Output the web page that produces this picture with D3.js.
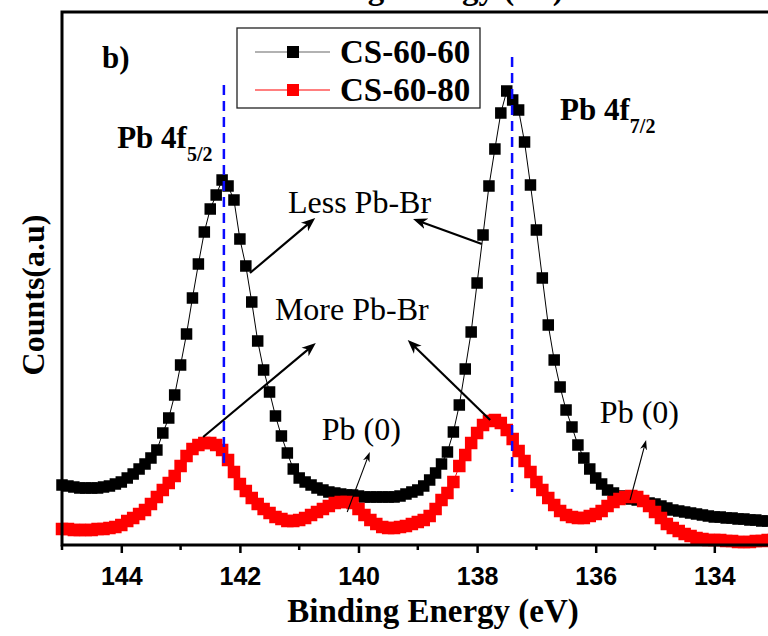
<!DOCTYPE html>
<html>
<head>
<meta charset="utf-8">
<script src="https://cdn.jsdelivr.net/npm/d3@7"></script>
<style>
  body { margin: 0; background: #fff; }
  svg { display: block; }
</style>
</head>
<body>
<div id="chart"></div>
<script>
// binding energy grid (eV)
const energies = [
  145.0, 144.9, 144.8, 144.7, 144.6, 144.5, 144.4, 144.3, 144.2, 144.1,
  144.0, 143.9, 143.8, 143.7, 143.6, 143.5, 143.4, 143.3, 143.2, 143.1,
  143.0, 142.9, 142.8, 142.7, 142.6, 142.5, 142.4, 142.3, 142.2, 142.1,
  142.0, 141.9, 141.8, 141.7, 141.6, 141.5, 141.4, 141.3, 141.2, 141.1,
  141.0, 140.9, 140.8, 140.7, 140.6, 140.5, 140.4, 140.3, 140.2, 140.1,
  140.0, 139.9, 139.8, 139.7, 139.6, 139.5, 139.4, 139.3, 139.2, 139.1,
  139.0, 138.9, 138.8, 138.7, 138.6, 138.5, 138.4, 138.3, 138.2, 138.1,
  138.0, 137.9, 137.8, 137.7, 137.6, 137.5, 137.4, 137.3, 137.2, 137.1,
  137.0, 136.9, 136.8, 136.7, 136.6, 136.5, 136.4, 136.3, 136.2, 136.1,
  136.0, 135.9, 135.8, 135.7, 135.6, 135.5, 135.4, 135.3, 135.2, 135.1,
  135.0, 134.9, 134.8, 134.7, 134.6, 134.5, 134.4, 134.3, 134.2, 134.1,
  134.0, 133.9, 133.8, 133.7, 133.6, 133.5, 133.4, 133.3, 133.2, 133.1,
  133.0
];

// counts (a.u.)
const cs6060 = [
  60, 59, 58, 57, 57, 57, 57, 58, 59, 61,
  63, 67, 71, 76, 81, 87, 95, 112, 127, 150,
  180, 211, 247, 281, 313, 336, 350, 365, 359, 345,
  306, 279, 243, 204, 175, 153, 129, 109, 92, 76,
  67, 63, 60, 57, 55, 53, 52, 51, 50, 50,
  49, 48, 48, 48, 48, 48, 48, 49, 51, 53,
  55, 59, 65, 72, 81, 93, 113, 140, 176, 213,
  262, 310, 359, 396, 432, 454, 445, 435, 403, 360,
  315, 267, 220, 185, 158, 135, 118, 100, 87, 76,
  67, 61, 55, 52, 49, 47, 46, 45, 44, 42,
  41, 39, 37, 35, 34, 33, 32, 31, 30, 29,
  28, 28, 27, 27, 26, 26, 25, 25, 24, 24,
  24
];

const cs6080 = [
  16, 16, 15, 15, 15, 15, 16, 16, 17, 18,
  20, 24, 27, 31, 35, 41, 48, 55, 62, 69,
  79, 89, 96, 100, 102, 102, 100, 95, 85, 73,
  61, 54, 47, 41, 36, 32, 28, 26, 24, 24,
  25, 27, 30, 33, 36, 39, 42, 43, 43, 42,
  36, 30, 25, 21, 18, 17, 17, 18, 19, 21,
  23, 25, 29, 36, 45, 52, 63, 79, 90, 102,
  112, 120, 124, 125, 122, 115, 106, 94, 84, 73,
  63, 55, 47, 40, 34, 30, 28, 27, 27, 29,
  31, 34, 39, 43, 46, 48, 49, 48, 44, 39,
  33, 27, 21, 17, 14, 11, 9, 7, 6, 5,
  5, 5, 4, 4, 3, 3, 3, 4, 4, 5,
  5
];

const seriesNames = ['CS-60-60', 'CS-60-80'];
const majorTicks = [144, 142, 140, 138, 136, 134];
const minorTicks = [145, 143, 141, 139, 137, 135, 133];

// dashed peak markers: energy, top and bottom in counts
const peakLines = [
  { e: 142.27, top: 460, bottom: 77 },
  { e: 137.41, top: 488, bottom: 53 }
];

// annotation arrows in data coordinates [energy, counts]
const arrows = [
  { from: [141.83, 272], to: [140.73, 327], thick: true },
  { from: [137.92, 301], to: [139.08, 326], thick: true },
  { from: [142.62, 108], to: [140.72, 202], thick: true },
  { from: [137.78, 125], to: [139.17, 205], thick: true },
  { from: [140.19, 33], to: [139.81, 93], thick: false },
  { from: [135.42, 45], to: [135.15, 105], thick: false }
];

const notes = [
  { text: 'Less Pb-Br', at: [141.19, 332] },
  { text: 'More Pb-Br', at: [141.41, 225] },
  { text: 'Pb (0)', at: [140.62, 105] },
  { text: 'Pb (0)', at: [135.93, 122] }
];

const peakNames = [
  { main: 'Pb 4f', sub: '5/2', at: [144.07, 397] },
  { main: 'Pb 4f', sub: '7/2', at: [136.60, 425] }
];

const width = 768;
const height = 636;
const serif = '"Liberation Serif", "Times New Roman", Times, serif';
const sans = '"Liberation Sans", Arial, Helvetica, sans-serif';

const x = d3.scaleLinear().domain([145, 133]).range([62, 62 + 12 * 59.3]);
const y = d3.scaleLinear().domain([0, 533]).range([545, 12]);

const svg = d3.select('#chart').append('svg')
    .attr('width', width)
    .attr('height', height);

const defs = svg.append('defs');
defs.append('marker')
    .attr('id', 'headThick')
    .attr('viewBox', '-14 -7 15 14')
    .attr('refX', 0).attr('refY', 0)
    .attr('markerUnits', 'userSpaceOnUse')
    .attr('markerWidth', 15).attr('markerHeight', 14)
    .attr('orient', 'auto')
  .append('path')
    .attr('d', 'M0,0L-14,-5.5L-10,0L-14,5.5Z')
    .attr('fill', '#000');
defs.append('marker')
    .attr('id', 'headThin')
    .attr('viewBox', '-10 -5 11 10')
    .attr('refX', 0).attr('refY', 0)
    .attr('markerUnits', 'userSpaceOnUse')
    .attr('markerWidth', 11).attr('markerHeight', 10)
    .attr('orient', 'auto')
  .append('path')
    .attr('d', 'M0,0L-10,-3.5L-7,0L-10,3.5Z')
    .attr('fill', '#000');

// cut-off title of the panel above (only its lower edge shows)
svg.append('text')
    .attr('x', 418).attr('y', -1)
    .attr('text-anchor', 'middle')
    .style('font-family', serif).style('font-weight', 'bold').style('font-size', '33px')
    .text('Binding Energy (eV)');

const series = [
  { name: seriesNames[0], values: cs6060, color: '#000', line: '#000', size: 11.5 },
  { name: seriesNames[1], values: cs6080, color: '#ff0000', line: '#ff0000', size: 12.5 }
];

const line = d3.line()
    .x((d, i) => x(energies[i]))
    .y(d => y(d));

series.forEach(s => {
  const g = svg.append('g');
  g.append('path')
      .datum(s.values)
      .attr('d', line)
      .attr('fill', 'none')
      .attr('stroke', s.line)
      .attr('stroke-width', 1);
  g.selectAll('rect')
      .data(s.values)
    .enter().append('rect')
      .attr('x', (d, i) => x(energies[i]) - s.size / 2)
      .attr('y', d => y(d) - s.size / 2)
      .attr('width', s.size)
      .attr('height', s.size)
      .attr('fill', s.color);
});

// peak position guides
svg.selectAll('.peak')
    .data(peakLines)
  .enter().append('line')
    .attr('x1', d => x(d.e)).attr('x2', d => x(d.e))
    .attr('y1', d => y(d.top)).attr('y2', d => y(d.bottom))
    .attr('stroke', '#0a0aff')
    .attr('stroke-width', 2.5)
    .attr('stroke-dasharray', '10,6');

// arrows
arrows.forEach(a => {
  const x1 = x(a.from[0]), y1 = y(a.from[1]);
  const x2 = x(a.to[0]), y2 = y(a.to[1]);
  const len = Math.hypot(x2 - x1, y2 - y1);
  const cut = a.thick ? 8 : 5;
  svg.append('line')
      .attr('x1', x1).attr('y1', y1)
      .attr('x2', x2 - (x2 - x1) / len * cut)
      .attr('y2', y2 - (y2 - y1) / len * cut)
      .attr('stroke', '#000')
      .attr('stroke-width', a.thick ? 2.2 : 1.1);
  svg.append('line')
      .attr('x1', x2 - (x2 - x1) / len * 0.5).attr('y1', y2 - (y2 - y1) / len * 0.5)
      .attr('x2', x2).attr('y2', y2)
      .attr('stroke', 'none')
      .attr('marker-end', a.thick ? 'url(#headThick)' : 'url(#headThin)');
});

svg.selectAll('.note')
    .data(notes)
  .enter().append('text')
    .attr('x', d => x(d.at[0]))
    .attr('y', d => y(d.at[1]))
    .style('font-family', serif)
    .style('font-size', '32px')
    .text(d => d.text);

const pk = svg.selectAll('.peakname')
    .data(peakNames)
  .enter().append('text')
    .attr('x', d => x(d.at[0]))
    .attr('y', d => y(d.at[1]))
    .style('font-family', serif)
    .style('font-weight', 'bold')
    .style('font-size', '31px');
pk.append('tspan').text(d => d.main);
pk.append('tspan')
    .attr('dy', 13)
    .style('font-size', '20px')
    .text(d => d.sub);

// panel letter
svg.append('text')
    .attr('x', 102).attr('y', 68)
    .style('font-family', serif).style('font-weight', 'bold').style('font-size', '31px')
    .text('b)');

// legend
const legend = svg.append('g');
legend.append('rect')
    .attr('x', 237).attr('y', 28)
    .attr('width', 243).attr('height', 80)
    .attr('fill', '#fff')
    .attr('stroke', '#222')
    .attr('stroke-width', 1.3);
series.forEach((s, i) => {
  const ly = 52 + i * 38;
  legend.append('line')
      .attr('x1', 255).attr('x2', 330)
      .attr('y1', ly).attr('y2', ly)
      .attr('stroke', i === 0 ? '#666' : s.line)
      .attr('stroke-width', 1.2);
  legend.append('rect')
      .attr('x', 293 - 6).attr('y', ly - 6)
      .attr('width', 12).attr('height', 12)
      .attr('fill', s.color);
  legend.append('text')
      .attr('x', 340).attr('y', ly + 11)
      .style('font-family', serif).style('font-weight', 'bold').style('font-size', '33px')
      .text(s.name);
});

// axes and frame
const xAxis = svg.append('g')
    .attr('transform', `translate(0,${y(0)})`)
    .call(d3.axisBottom(x).tickValues(majorTicks).tickSize(8).tickSizeOuter(0).tickPadding(14)
      .tickFormat(d3.format('d')));
xAxis.select('.domain').remove();
xAxis.selectAll('.tick line').attr('stroke', '#000').attr('stroke-width', 2.5);
xAxis.selectAll('.tick text')
    .style('font-family', sans).style('font-weight', 'bold').style('font-size', '25px')
    .attr('fill', '#000');

svg.append('g')
    .attr('transform', `translate(0,${y(0)})`)
    .selectAll('line')
    .data(minorTicks)
  .enter().append('line')
    .attr('x1', d => x(d)).attr('x2', d => x(d))
    .attr('y1', 0).attr('y2', 5)
    .attr('stroke', '#000').attr('stroke-width', 2.5);

svg.append('path')
    .attr('d', `M${width + 10},${y(533)}H${x(145)}V${y(0)}H${width + 10}`)
    .attr('fill', 'none')
    .attr('stroke', '#000')
    .attr('stroke-width', 3);

svg.append('text')
    .attr('x', 433).attr('y', 622)
    .attr('text-anchor', 'middle')
    .style('font-family', serif).style('font-weight', 'bold').style('font-size', '33px')
    .text('Binding Energy (eV)');

svg.append('text')
    .attr('transform', 'translate(44,295) rotate(-90)')
    .attr('text-anchor', 'middle')
    .style('font-family', serif).style('font-weight', 'bold').style('font-size', '32px')
    .text('Counts(a.u)');
</script>
</body>
</html>
